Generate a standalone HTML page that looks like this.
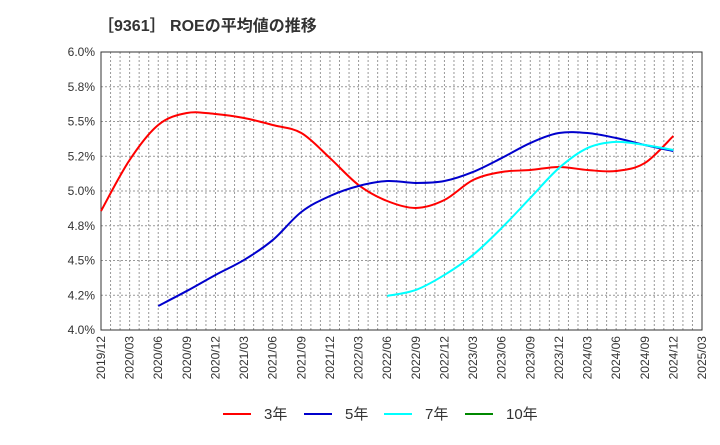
<!DOCTYPE html>
<html><head><meta charset="utf-8"><style>
body{margin:0;background:#fff;font-family:"Liberation Sans","Noto Sans CJK JP",sans-serif;}
</style></head><body>
<svg id="c" width="720" height="440" xmlns="http://www.w3.org/2000/svg">
<text x="98" y="31" font-size="16" font-weight="bold" fill="#333" font-family="Liberation Sans, Noto Sans CJK JP, sans-serif">［9361］ ROEの平均値の推移</text>
<g id="grid"></g><g id="axes"></g><g id="series"></g><g id="legend"></g>
</svg>
<script>
const xLabels=["2019/12","2020/03","2020/06","2020/09","2020/12","2021/03","2021/06","2021/09","2021/12","2022/03","2022/06","2022/09","2022/12","2023/03","2023/06","2023/09","2023/12","2024/03","2024/06","2024/09","2024/12","2025/03"];
const yTicks=[4.0,4.25,4.5,4.75,5.0,5.25,5.5,5.75,6.0];
const yTickLabels=["4.0%","4.2%","4.5%","4.8%","5.0%","5.2%","5.5%","5.8%","6.0%"];
const s3Start=0;
const s3=[4.856,5.223,5.475,5.561,5.554,5.525,5.475,5.417,5.237,5.043,4.928,4.878,4.935,5.079,5.137,5.151,5.173,5.151,5.144,5.201,5.396];
const s5Start=2;
const s5=[4.173,4.281,4.396,4.504,4.647,4.849,4.964,5.036,5.072,5.058,5.072,5.137,5.237,5.345,5.417,5.417,5.381,5.331,5.288];
const s7Start=10;
const s7=[4.245,4.288,4.396,4.540,4.734,4.950,5.165,5.309,5.353,5.331,5.295];
const NS="http://www.w3.org/2000/svg";
const L=101,R=702,T=52,B=330;
const xq=i=>L+(R-L)*i/(xLabels.length-1);
const y=v=>B-(v-4.0)/2.0*(B-T);
function mk(tag,attrs,parent){const e=document.createElementNS(NS,tag);for(const k in attrs)e.setAttribute(k,attrs[k]);parent.appendChild(e);return e;}
const grid=document.getElementById('grid'),axes=document.getElementById('axes'),ser=document.getElementById('series'),leg=document.getElementById('legend');
mk('rect',{x:L,y:T,width:R-L,height:B-T,fill:'#fff'},grid);
const months=(xLabels.length-1)*3;
for(let m=1;m<months;m++){const x=L+(R-L)*m/months;
const g=mk('line',{x1:x,x2:x,y1:T,y2:B,stroke:'#999','stroke-dasharray':'2,2','stroke-width':1},grid);

}
yTicks.forEach((v,i)=>{const yy=y(v);
const g=mk('line',{x1:L,x2:R,y1:yy,y2:yy,stroke:'#999','stroke-dasharray':'2,2','stroke-width':1},grid);


const t=mk('text',{x:L-6,y:yy+4,'text-anchor':'end','font-size':12,fill:'#333'},axes);t.textContent=yTickLabels[i];

});
xLabels.forEach((lab,i)=>{const x=xq(i);
const t=mk('text',{x:0,y:0,'text-anchor':'end','font-size':12,fill:'#333',transform:`translate(${x+4},${B+6}) rotate(-90)`},axes);t.textContent=lab;

});
const fr=mk('rect',{x:L,y:T,width:R-L,height:B-T,fill:'none',stroke:'#333','stroke-width':1},axes);


function path(pts){let d=`M${pts[0][0]},${pts[0][1]}`;
for(let i=0;i<pts.length-1;i++){const p0=pts[Math.max(0,i-1)],p1=pts[i],p2=pts[i+1],p3=pts[Math.min(pts.length-1,i+2)];
const c1=[p1[0]+(p2[0]-p0[0])/6,p1[1]+(p2[1]-p0[1])/6],c2=[p2[0]-(p3[0]-p1[0])/6,p2[1]-(p3[1]-p1[1])/6];
d+=`C${c1[0]},${c1[1]} ${c2[0]},${c2[1]} ${p2[0]},${p2[1]}`;}return d;}
function series(vals,start,color,name){const pts=vals.map((v,i)=>[xq(start+i),y(v)]);
const p=mk('path',{d:path(pts),fill:'none',stroke:color,'stroke-width':2},ser);

}
series(s3,s3Start,'#f00','series-3y');
series(s5,s5Start,'#00c','series-5y');
series(s7,s7Start,'#0ff','series-7y');
const legItems=[["3年","#f00",223],["5年","#00c",304],["7年","#0ff",384],["10年","#080",465]];
legItems.forEach(([lab,col,x])=>{const g=mk('g',{},leg);


mk('line',{x1:x,x2:x+28,y1:414,y2:414,stroke:col,'stroke-width':2},g);
const t=mk('text',{x:x+41,y:419,'font-size':15,fill:'#333'},g);t.textContent=lab;});
</script>
</body></html>
